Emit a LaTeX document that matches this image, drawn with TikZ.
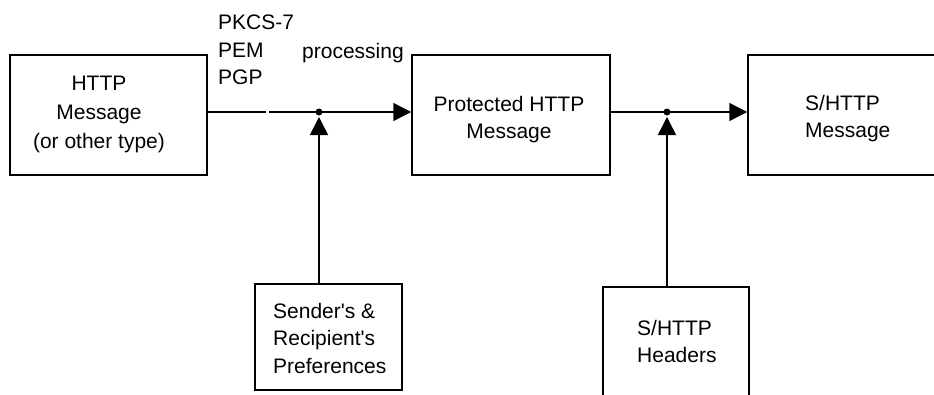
\documentclass[tikz,border=0pt]{standalone}
\usepackage{fontspec}
\setmainfont{Liberation Sans}
\usetikzlibrary{arrows.meta}

\begin{document}
\begin{tikzpicture}[
  x=1pt, y=-1pt,
  box/.style={draw, line width=1.5pt, rectangle, inner sep=0pt},
  txt/.style={inner sep=0pt, font=\fontsize{21}{27.5}\selectfont},
  link/.style={line width=1.5pt},
  arrow/.style={line width=1.5pt, -{Triangle[length=18pt,width=18pt]}},
  junction/.style={fill=black}
]
\clip (0,0) rectangle (934,394);

% boxes
\node[box, minimum width=197pt, minimum height=120pt] (http) at (108.5,115) {};
\node[box, minimum width=198pt, minimum height=120pt] (prot) at (511,115) {};
\node[box, minimum width=212pt, minimum height=120pt] (msg)  at (854,115) {};
\node[box, minimum width=147pt, minimum height=106pt] (pref) at (328.5,337) {};
\node[box, minimum width=146pt, minimum height=116pt] (hdr)  at (676,345) {};

% box texts
\node[txt, font=\fontsize{21}{29}\selectfont, align=center, anchor=north]
  (http-t) at (99,75.9) {HTTP\\Message\\(or other type)};
\node[txt, align=center, anchor=north]
  (prot-t) at (509,95.9) {Protected HTTP\\Message};
\node[txt, align=left, anchor=north west]
  (msg-t) at (805,94.9) {S/HTTP\\Message};
\node[txt, align=left, anchor=north west]
  (pref-t) at (273,302.7) {Sender\textquotesingle s \&\\Recipient\textquotesingle s\\Preferences};
\node[txt, align=left, anchor=north west]
  (hdr-t) at (637,319.9) {S/HTTP\\Headers};

% labels above the first connector
\node[txt, align=left, anchor=north west]
  (fmt) at (218,14.7) {PKCS-7\\PEM\\PGP};
\node[txt, anchor=base west] (proc) at (302,58) {processing};

% junction points on the main line
\coordinate (g1) at (266,112);
\coordinate (g2) at (269,112);
\coordinate (j1) at (319,112);
\coordinate (j1t) at (319,117);
\coordinate (j2) at (667,112);
\coordinate (j2t) at (667,117);

% connectors
\draw[link] (http.east |- g1) -- (g1);
\draw[arrow] (g2) -- (prot.west |- g2);
\draw[arrow] (pref.north -| j1) -- (j1t);
\fill[junction] (j1) circle (3.5pt);

\draw[arrow] (prot.east |- j2) -- (msg.west |- j2);
\draw[arrow] (hdr.north -| j2) -- (j2t);
\fill[junction] (j2) circle (3.5pt);
\end{tikzpicture}
\end{document}
